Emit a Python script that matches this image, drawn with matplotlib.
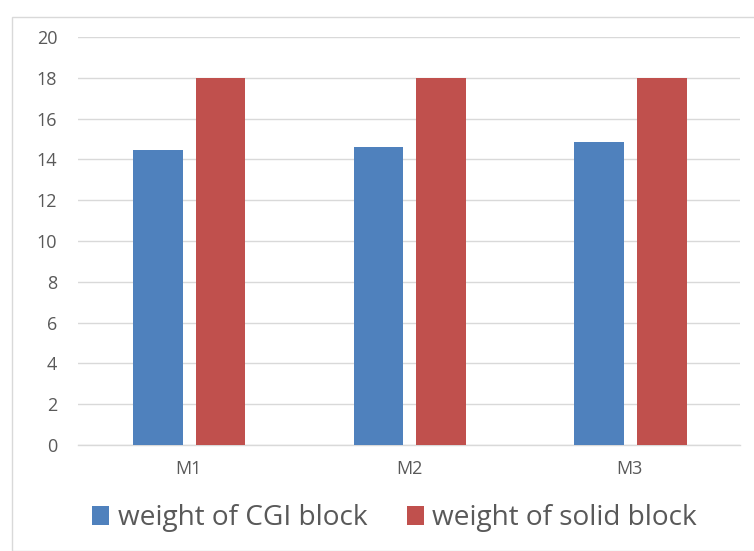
import numpy as np
import matplotlib.pyplot as plt
from matplotlib.patches import Rectangle

categories = ["M1", "M2", "M3"]
cgi_weight = [14.45, 14.62, 14.85]
solid_weight = [18, 18, 18]
series_names = ["weight of CGI block", "weight of solid block"]

plt.rcParams["font.family"] = ["Open Sans", "DejaVu Sans"]

fig = plt.figure(figsize=(7.54, 5.51), dpi=100)
ax = fig.add_axes([78 / 754, 106 / 551, 662 / 754, 408 / 551])

x = np.arange(len(categories))
w = 0.225
off = 0.142
ax.bar(x - off + 0.004, cgi_weight, w, color="#4f81bd", label=series_names[0], zorder=3)
ax.bar(x + off + 0.004, solid_weight, w, color="#c0504d", label=series_names[1], zorder=3)

ax.set_xlim(-0.5, 2.5)
ax.set_ylim(0, 20)
ax.set_yticks(range(0, 21, 2))
ax.set_xticks(x)
ax.set_xticklabels(categories)
ax.grid(axis="y", color="#d9d9d9", linewidth=1, zorder=0)
for s in ["top", "right", "left"]:
    ax.spines[s].set_visible(False)
ax.spines["bottom"].set_color("#d9d9d9")
ax.spines["bottom"].set_linewidth(1)
ax.tick_params(length=0, colors="#595959", labelsize=13)
ax.tick_params(axis="y", pad=15)
ax.tick_params(axis="x", pad=11)

ax.legend(loc="center", bbox_to_anchor=(0.478, -0.18), ncol=2, frameon=False,
          fontsize=20.2, labelcolor="#595959", handlelength=0.62, handleheight=0.62,
          handletextpad=0.3, columnspacing=1.4)

fig.patches.append(Rectangle((12 / 754, 0), 760 / 754, 534 / 551, transform=fig.transFigure,
                             fill=False, edgecolor="#d9d9d9", linewidth=1))

fig.savefig("out.png", dpi=100)
